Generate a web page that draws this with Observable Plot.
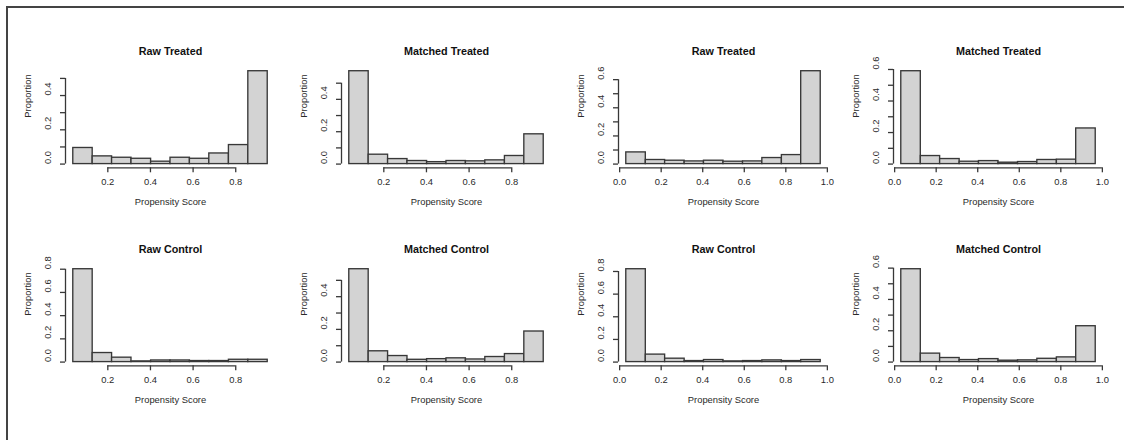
<!DOCTYPE html>
<html>
<head>
<meta charset="utf-8">
<script src="https://cdn.jsdelivr.net/npm/d3@7"></script>
<script src="https://cdn.jsdelivr.net/npm/@observablehq/plot@0.6"></script>
<style>
  html, body { margin: 0; padding: 0; background: #fff; }
  #page { position: relative; width: 1124px; height: 440px; overflow: hidden; background: #fff; }
  #border { position: absolute; left: 6px; top: 6px; width: 1124px; height: 440px;
            border-top: 2px solid #444; border-left: 2px solid #444; }
  #page svg { position: absolute; }
</style>
</head>
<body>
<div id="page"><div id="border"></div></div>
<script>
// Bin breaks (propensity score) for the two sets of panels
const leftBreaks  = [0.038, 0.129, 0.220, 0.311, 0.403, 0.494, 0.585, 0.676, 0.768, 0.859, 0.950];
const rightBreaks = [0.032, 0.126, 0.219, 0.313, 0.406, 0.500, 0.594, 0.687, 0.781, 0.874, 0.968];

// Proportions per bin
const rawTreatedA      = [0.094, 0.045, 0.037, 0.031, 0.014, 0.037, 0.031, 0.062, 0.111, 0.542];
const matchedTreatedA  = [0.574, 0.058, 0.031, 0.019, 0.012, 0.019, 0.017, 0.023, 0.050, 0.184];
const rawTreatedB      = [0.083, 0.029, 0.024, 0.019, 0.024, 0.017, 0.019, 0.043, 0.064, 0.660];
const matchedTreatedB  = [0.589, 0.051, 0.032, 0.015, 0.019, 0.009, 0.013, 0.026, 0.028, 0.226];
const rawControlA      = [0.800, 0.078, 0.038, 0.006, 0.014, 0.014, 0.009, 0.009, 0.020, 0.020];
const matchedControlA  = [0.568, 0.066, 0.037, 0.014, 0.018, 0.023, 0.016, 0.031, 0.049, 0.187];
const rawControlB      = [0.820, 0.066, 0.030, 0.009, 0.018, 0.006, 0.009, 0.015, 0.009, 0.018];
const matchedControlB  = [0.593, 0.054, 0.026, 0.013, 0.019, 0.009, 0.011, 0.021, 0.030, 0.229];

// Tick values
const leftXTicks  = [0.2, 0.4, 0.6, 0.8];
const rightXTicks = [0.0, 0.2, 0.4, 0.6, 0.8, 1.0];
const yTicks05 = [0.0, 0.1, 0.2, 0.3, 0.4, 0.5];
const yTicks06 = [0.0, 0.1, 0.2, 0.3, 0.4, 0.5, 0.6];
const yTicks08 = [0.0, 0.2, 0.4, 0.6, 0.8];
const yLabels04 = [0.0, 0.2, 0.4];
const yLabels06 = [0.0, 0.2, 0.4, 0.6];
const yLabels08 = [0.0, 0.2, 0.4, 0.6, 0.8];

// Titles
const titleRawTreated = "Raw Treated";
const titleMatchedTreated = "Matched Treated";
const titleRawControl = "Raw Control";
const titleMatchedControl = "Matched Control";
const xLabel = "Propensity Score";
const yLabel = "Proportion";

const colLeft = [65.3, 341.0, 617.7, 893.3];
const rowTop = [67.0, 264.6];
const FW = 210, FH = 100.3, ML = 60, MT = 40, MR = 6, MB = 50;
const TICK = 5;
const LINE = "#383838";

function panel(title, values, breaks, yTicks, yLabels, xTicks, col, row) {
  const bins = values.map((v, i) => ({x1: breaks[i], x2: breaks[i + 1], y: v}));
  const span = breaks[breaks.length - 1] - breaks[0];
  const xd = [breaks[0] - 0.04 * span, breaks[breaks.length - 1] + 0.04 * span];
  const m = d3.max(values);
  const yd = [-0.04 * m, 1.04 * m];
  const tx = TICK * (xd[1] - xd[0]) / FW;  // tick length in x units
  const ty = TICK * (yd[1] - yd[0]) / FH;  // tick length in y units
  const svg = Plot.plot({
    width: ML + FW + MR,
    height: MT + FH + MB,
    marginLeft: ML, marginRight: MR, marginTop: MT, marginBottom: MB,
    x: {domain: xd, axis: null},
    y: {domain: yd, axis: null},
    style: {fontFamily: "'Liberation Sans', Arial, sans-serif", fontSize: "9.4px", color: "#2a2a2a", background: "transparent", overflow: "visible"},
    marks: [
      Plot.rect(bins, {x1: "x1", x2: "x2", y1: 0, y2: "y", fill: "#d3d3d3", stroke: LINE, strokeWidth: 1.35, inset: 0}),
      Plot.ruleX([xd[0]], {y1: yTicks[0], y2: yTicks[yTicks.length - 1], stroke: LINE, strokeWidth: 1.3}),
      Plot.ruleY(yTicks, {x1: xd[0] - tx, x2: xd[0], stroke: LINE, strokeWidth: 1.3}),
      Plot.text(yLabels, {y: d => d, text: d => d.toFixed(1), frameAnchor: "left", dx: -18, rotate: -90}),
      Plot.ruleY([yd[0]], {x1: xTicks[0], x2: xTicks[xTicks.length - 1], stroke: LINE, strokeWidth: 1.3}),
      Plot.ruleX(xTicks, {y1: yd[0], y2: yd[0] - ty, stroke: LINE, strokeWidth: 1.3}),
      Plot.text(xTicks, {x: d => d, text: d => d.toFixed(1), frameAnchor: "bottom", dy: 17}),
      Plot.text([xLabel], {frameAnchor: "bottom", dy: 37}),
      Plot.text([yLabel], {frameAnchor: "left", dx: -38, rotate: -90}),
      Plot.text([title], {frameAnchor: "top", dy: -20, fontWeight: "bold", fontSize: 10.8, fill: "#111"})
    ]
  });
  svg.style.left = (colLeft[col] - ML) + "px";
  svg.style.top = (rowTop[row] - MT) + "px";
  document.getElementById("page").appendChild(svg);
}

panel(titleRawTreated,     rawTreatedA,     leftBreaks,  yTicks05, yLabels04, leftXTicks,  0, 0);
panel(titleMatchedTreated, matchedTreatedA, leftBreaks,  yTicks05, yLabels04, leftXTicks,  1, 0);
panel(titleRawTreated,     rawTreatedB,     rightBreaks, yTicks06, yLabels06, rightXTicks, 2, 0);
panel(titleMatchedTreated, matchedTreatedB, rightBreaks, yTicks06, yLabels06, rightXTicks, 3, 0);
panel(titleRawControl,     rawControlA,     leftBreaks,  yTicks08, yLabels08, leftXTicks,  0, 1);
panel(titleMatchedControl, matchedControlA, leftBreaks,  yTicks05, yLabels04, leftXTicks,  1, 1);
panel(titleRawControl,     rawControlB,     rightBreaks, yTicks08, yLabels08, rightXTicks, 2, 1);
panel(titleMatchedControl, matchedControlB, rightBreaks, yTicks06, yLabels06, rightXTicks, 3, 1);
</script>
</body>
</html>
